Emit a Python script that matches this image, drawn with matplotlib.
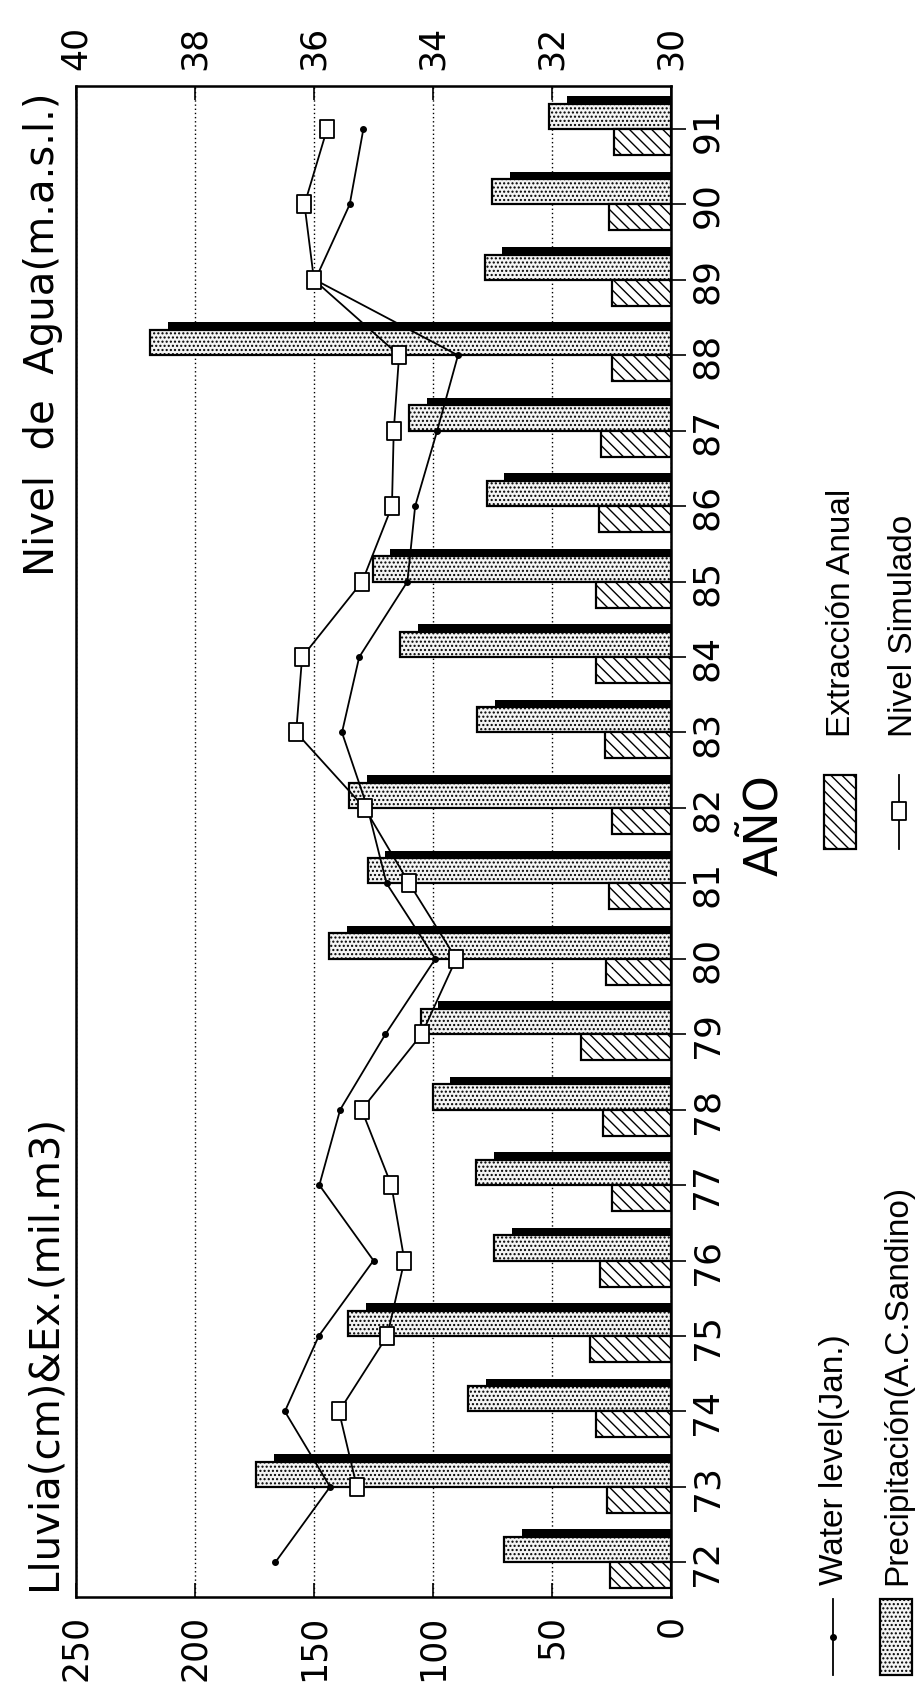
import numpy as np
import matplotlib
matplotlib.use("Agg")
import matplotlib.pyplot as plt
from matplotlib.patches import Rectangle
from matplotlib.lines import Line2D
from matplotlib.path import Path

plt.rcParams['font.family'] = ['DejaVu Sans']
plt.rcParams['hatch.linewidth'] = 1.0

# ---- data -------------------------------------------------------------
years = [72, 73, 74, 75, 76, 77, 78, 79, 80, 81, 82, 83, 84, 85, 86, 87, 88, 89, 90, 91]
year_labels = [str(y) for y in years]

# annual rainfall (cm)
precipitacion = [70, 174.5, 85.4, 135.6, 74.3, 81.9, 100.2, 105.2, 143.8, 127.5,
                 135.3, 81.5, 114.0, 125.4, 77.5, 109.9, 219.0, 78.3, 75.3, 51.4]
# annual groundwater extraction (thousand m3)
extraccion = [25.5, 26.7, 31.4, 33.9, 29.7, 25.0, 28.5, 37.9, 27.2, 26.0,
              25.0, 27.9, 31.6, 31.4, 30.1, 29.6, 24.7, 24.7, 25.9, 24.0]
# observed water level in January (m.a.s.l.)
water_level = [36.65, 35.73, 36.49, 35.92, 35.00, 35.91, 35.56, 34.80, 33.96, 34.78,
               35.10, 35.53, 35.24, 34.43, 34.30, 33.93, 33.58, 35.98, 35.40, 35.17]
# simulated water level (m.a.s.l.)
sim_years = [73, 74, 75, 76, 77, 78, 79, 80, 81, 82, 83, 84, 85, 86, 87, 88, 89, 90, 91]
nivel_simulado = [35.28, 35.58, 34.77, 34.48, 34.70, 35.20, 34.19, 33.61, 34.40, 35.15,
                  36.30, 36.20, 35.19, 34.69, 34.66, 34.57, 36.00, 36.16, 35.78]

lluvia_ticks = [0, 50, 100, 150, 200, 250]
nivel_ticks = [30, 32, 34, 36, 38, 40]

# ---- figure -----------------------------------------------------------
W, H = 924, 1706
fig = plt.figure(figsize=(W / 100, H / 100), dpi=100)


def fx(px):
    return px / W


def fy(py):
    return 1 - py / H


left, right, top, bottom = 76, 671, 87, 1598
ax = fig.add_axes([fx(left), fy(bottom), (right - left) / W, (bottom - top) / H])

yrs = np.array(years, dtype=float)
prec = np.array(precipitacion)
extr = np.array(extraccion)

# dark depth band behind each rainfall bar
ax.barh(yrs + 0.385, prec - 7.5, height=0.10, color='black', zorder=2)
# rainfall bars (stippled)
ax.barh(yrs + 0.168, prec, height=0.335, facecolor='#f4f4f4', edgecolor='black',
        hatch='....', linewidth=1.6, zorder=3)
# extraction bars (hatched)
ax.barh(yrs - 0.172, extr, height=0.345, facecolor='white', edgecolor='black',
        hatch='\\\\\\', linewidth=1.6, zorder=3)

ax.set_xlim(250, 0)
ax.set_ylim(71.54, 91.57)
ax.set_xticks(lluvia_ticks)
ax.set_xticklabels([str(v) for v in lluvia_ticks], rotation=90, fontsize=25)
ax.tick_params(axis='x', direction='in', length=10, width=1.2, pad=12)
ax.grid(axis='x', linestyle=(0, (1, 2)), color='black', linewidth=1.0, zorder=1)
ax.set_axisbelow(True)

ax.yaxis.tick_right()
ax.set_yticks(years)
ax.set_yticklabels(year_labels, rotation=90, va='center', fontsize=26)
ax.tick_params(axis='y', direction='out', length=11, width=1.2, pad=3)

for s in ax.spines.values():
    s.set_linewidth(1.8)

# water level axis on top
ax2 = ax.twiny()
ax2.set_xlim(40, 30)
ax2.set_xticks(nivel_ticks)
ax2.set_xticklabels([str(v) for v in nivel_ticks], rotation=90, fontsize=25)
ax2.tick_params(axis='x', direction='in', length=10, width=1.2, pad=12)

rect_marker = Path([(-0.75, -1), (0.75, -1), (0.75, 1), (-0.75, 1), (-0.75, -1)],
                   [Path.MOVETO, Path.LINETO, Path.LINETO, Path.LINETO, Path.CLOSEPOLY])

ax2.plot(water_level, years, color='black', linewidth=1.3, marker='o',
         markersize=4, zorder=5)
ax2.plot(nivel_simulado, sim_years, color='black', linewidth=1.3, marker=rect_marker,
         markersize=13, markerfacecolor='white', markeredgecolor='black',
         markeredgewidth=1.3, zorder=6)

# ---- titles -----------------------------------------------------------
fig.text(fx(43), fy(92), 'Nivel  de  Agua(m.a.s.l.)', rotation=90,
         ha='center', va='top', fontsize=29)
fig.text(fx(45), fy(1590), 'Lluvia(cm)&Ex.(mil.m3)', rotation=90,
         ha='center', va='bottom', fontsize=29)
fig.text(fx(766), fy(825), 'AÑO', rotation=90, ha='center', va='center', fontsize=33)

# ---- legend -----------------------------------------------------------
leg_font = dict(fontsize=24, family=['Liberation Sans Narrow', 'Liberation Sans'])

# Extracción Anual
fig.add_artist(Rectangle((fx(824), fy(850)), 32 / W, 74 / H, transform=fig.transFigure,
                         facecolor='white', edgecolor='black', hatch='\\\\\\', linewidth=1.6))
fig.text(fx(842), fy(737), 'Extracción Anual', rotation=90, ha='center', va='bottom', **leg_font)

# Nivel Simulado
fig.add_artist(Line2D([fx(899), fx(899)], [fy(776), fy(850)], transform=fig.transFigure,
                      color='black', linewidth=1.3))
fig.add_artist(Line2D([fx(899)], [fy(812)], transform=fig.transFigure, marker=rect_marker,
                      markersize=13, markerfacecolor='white', markeredgecolor='black',
                      markeredgewidth=1.3))
fig.text(fx(903), fy(737), 'Nivel Simulado', rotation=90, ha='center', va='bottom', **leg_font)

# Water level (Jan.)
fig.add_artist(Line2D([fx(833), fx(833)], [fy(1600), fy(1676)], transform=fig.transFigure,
                      color='black', linewidth=1.3))
fig.add_artist(Line2D([fx(833)], [fy(1638)], transform=fig.transFigure, marker='o',
                      markersize=4, color='black'))
fig.text(fx(835), fy(1585), 'Water level(Jan.)', rotation=90, ha='center', va='bottom', **leg_font)

# Precipitación
fig.add_artist(Rectangle((fx(880), fy(1676)), 32 / W, 76 / H, transform=fig.transFigure,
                         facecolor='#f4f4f4', edgecolor='black', hatch='....', linewidth=1.6))
fig.text(fx(898), fy(1585), 'Precipitación(A.C.Sandino)', rotation=90, ha='center',
         va='bottom', **leg_font)

fig.savefig('out.png', dpi=100)
